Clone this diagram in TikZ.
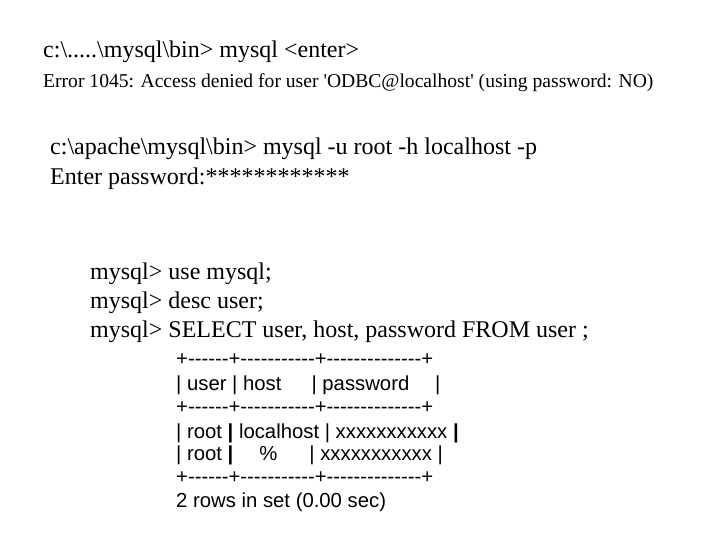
\documentclass[tikz,border=0pt]{standalone}
\usepackage{fontspec}
\setmainfont{Liberation Serif}
\newfontfamily\tabfont{Liberation Sans}
\newcommand{\bs}{\textbackslash}
\begin{document}
\begin{tikzpicture}[x=1pt,y=-1pt,
  cmd/.style={anchor=base west,inner sep=0pt,font=\fontsize{24}{26}\selectfont},
  small/.style={anchor=base west,inner sep=0pt,font=\fontsize{24}{26}\selectfont},
  err/.style={anchor=base west,inner sep=0pt,font=\fontsize{19.6}{21}\selectfont},
  tab/.style={anchor=base west,inner sep=0pt,font=\tabfont\fontsize{20.3}{22}\selectfont}]
\useasboundingbox (0,0) rectangle (720,540);
\node[small] (l1) at (43,58) {c:\bs.....\bs mysql\bs bin> mysql <enter>};
\node[err] (l2) at (43,88) {Error 1045: Access denied for user \textquotesingle ODBC@localhost\textquotesingle{} (using password: NO)};
\node[cmd] (l3) at (50,155) {c:\bs apache\bs mysql\bs bin> mysql -u root -h localhost -p};
\node[cmd] (l4) at (50,185) {Enter password:************};
\node[cmd] (l5) at (90,279) {mysql> use mysql;};
\node[cmd] (l6) at (90,308) {mysql> desc user;};
\node[cmd] (l7) at (90,337) {mysql> SELECT user, host, password FROM user ;};
\node[tab] (t1) at (176,365) {+------+-----------+--------------+};
\node[tab] (t2) at (176,390) {| user | host \hspace{1.2em}| password \hspace{1em}|};
\node[tab] (t3) at (176,413) {+------+-----------+--------------+};
\node[tab] (t4) at (176,438) {| root \textbf{|} localhost | xxxxxxxxxxx \textbf{|}};
\node[tab] (t5) at (176,460) {| root \textbf{|} \hspace{1em}\% \hspace{1.3em}| xxxxxxxxxxx |};
\node[tab] (t6) at (176,483) {+------+-----------+--------------+};
\node[tab] (t7) at (176,507) {2 rows in set (0.00 sec)};
\end{tikzpicture}
\end{document}
